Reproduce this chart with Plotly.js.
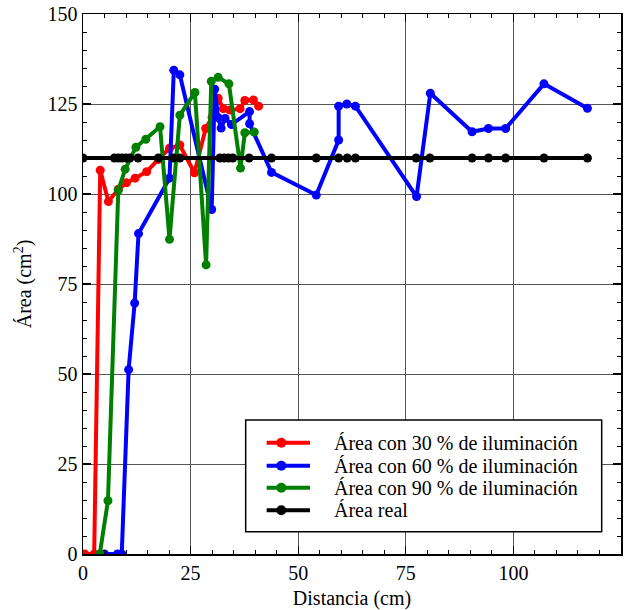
<!DOCTYPE html>
<html>
<head>
<meta charset="utf-8">
<script src="https://cdn.plot.ly/plotly-3.0.1.min.js"></script>
<style>html,body{margin:0;padding:0;background:#fff;}#chart{width:632px;height:610px;}</style>
</head>
<body>
<div id="chart"></div>
<script>
// Área con 30 % de iluminación
const x30 = [0.4, 2.6, 4.0, 5.9, 8.2, 10.1, 12.1, 14.8, 17.5, 20.1, 22.5, 25.9, 28.5, 30.0, 31.4, 32.6, 34.1, 36.5, 37.6, 39.6, 40.8];
const y30 = [0, 0, 106.6, 97.9, 101.3, 103.1, 104.4, 106.2, 109.6, 112.7, 113.6, 105.9, 118.2, 121.3, 126.6, 123.7, 123.3, 123.7, 126.0, 126.1, 124.4];

// Área con 60 % de iluminación
const x60 = [5.0, 8.0, 9.0, 10.6, 12.0, 12.9, 20.1, 21.1, 22.5, 29.9, 30.6, 31.4, 32.1, 33.0, 34.5, 38.7, 38.7, 43.8, 54.2, 59.4, 59.4, 61.3, 63.3, 77.5, 80.7, 90.4, 94.2, 98.2, 107.1, 117.2];
const y60 = [0, 0, 0, 51.2, 69.7, 89.0, 104.4, 134.4, 133.1, 95.7, 129.1, 121.2, 118.3, 121.0, 119.3, 122.9, 119.5, 106.0, 99.7, 115.0, 124.4, 125.0, 124.4, 99.3, 128.0, 117.3, 118.2, 118.2, 130.6, 123.8];

// Área con 90 % de iluminación
const x90 = [3.9, 5.8, 8.2, 9.8, 12.3, 14.6, 17.9, 20.1, 22.5, 26.0, 28.6, 29.8, 31.4, 33.9, 36.6, 37.6, 39.8];
const y90 = [0, 14.8, 101.0, 106.9, 113.0, 115.2, 118.7, 87.4, 121.9, 128.2, 80.3, 131.3, 132.4, 130.6, 107.2, 117.0, 117.2];

// Área real
const xReal = [0, 7.3, 8.2, 9.1, 10.0, 10.9, 12.8, 17.5, 21.0, 22.5, 31.8, 32.8, 33.8, 34.8, 38.6, 43.8, 54.2, 59.4, 61.4, 63.3, 77.4, 80.6, 90.4, 94.2, 98.2, 107.1, 117.2];
const yReal = xReal.map(() => 110);

const seriesNames = ["Área con 30 % de iluminación", "Área con 60 % de iluminación", "Área con 90 % de iluminación", "Área real"];
const seriesColors = ["#ff0000", "#0000ff", "#008000", "#000000"];
const xs = [x30, x60, x90, xReal];
const ys = [y30, y60, y90, yReal];

const fontFam = "Liberation Serif";

const traces = xs.map((x, i) => ({
  type: "scatter",
  mode: "lines+markers",
  x: x,
  y: ys[i],
  name: seriesNames[i],
  line: {color: seriesColors[i], width: 4},
  marker: {color: seriesColors[i], size: 9}
}));

// Legend drawn as a boxed key in paper coordinates
const legBox = {x0: 0.3024, x1: 0.9641, y0: 0.0413, y1: 0.2481};
const legRows = [0.2061, 0.1635, 0.1228, 0.0809];
const legLineX = [0.3414, 0.4219];
const legMarkX = 0.3686;
const legTextX = 0.4623;
const rx = 5 / 538, ry = 5 / 540;

const shapes = [{
  type: "rect", xref: "paper", yref: "paper", layer: "above",
  x0: legBox.x0, x1: legBox.x1, y0: legBox.y0, y1: legBox.y1,
  fillcolor: "#fff", line: {color: "#000", width: 1.5}
}];
const annotations = [];
seriesNames.forEach((name, i) => {
  const yy = legRows[i];
  shapes.push({type: "line", xref: "paper", yref: "paper", layer: "above",
    x0: legLineX[0], x1: legLineX[1], y0: yy, y1: yy,
    line: {color: seriesColors[i], width: 4}});
  shapes.push({type: "circle", xref: "paper", yref: "paper", layer: "above",
    x0: legMarkX - rx, x1: legMarkX + rx, y0: yy - ry, y1: yy + ry,
    fillcolor: seriesColors[i], line: {color: seriesColors[i], width: 0}});
  annotations.push({xref: "paper", yref: "paper", x: legTextX, y: yy,
    xanchor: "left", yanchor: "middle", showarrow: false, text: name,
    font: {family: fontFam, size: 20, color: "#000"}});
});

const axisCommon = {
  showline: true, linecolor: "#000", linewidth: 1.5, mirror: "allticks",
  ticks: "inside", ticklen: 8, tickwidth: 1.2, tickcolor: "#000",
  showgrid: true, gridcolor: "#555", gridwidth: 1,
  zeroline: false,
  tickfont: {family: fontFam, size: 20, color: "#000"},
  minor: {dtick: 5, ticks: "inside", ticklen: 4, tickwidth: 1, tickcolor: "#000", showgrid: false}
};

const layout = {
  width: 632, height: 610,
  margin: {l: 83, r: 11, t: 14, b: 56},
  paper_bgcolor: "#fff", plot_bgcolor: "#fff",
  font: {family: fontFam, color: "#000"},
  showlegend: false,
  xaxis: Object.assign({}, axisCommon, {
    range: [0, 125], dtick: 25, tick0: 0,
    title: {text: "Distancia (cm)", font: {family: fontFam, size: 20, color: "#000"}, standoff: 8}
  }),
  yaxis: Object.assign({}, axisCommon, {
    range: [0, 150], dtick: 25, tick0: 0,
    title: {text: "Área (cm<sup>2</sup>)", font: {family: fontFam, size: 20, color: "#000"}, standoff: 10}
  }),
  shapes: shapes,
  annotations: annotations
};

Plotly.newPlot("chart", traces, layout, {displayModeBar: false, staticPlot: true});
</script>
</body>
</html>
